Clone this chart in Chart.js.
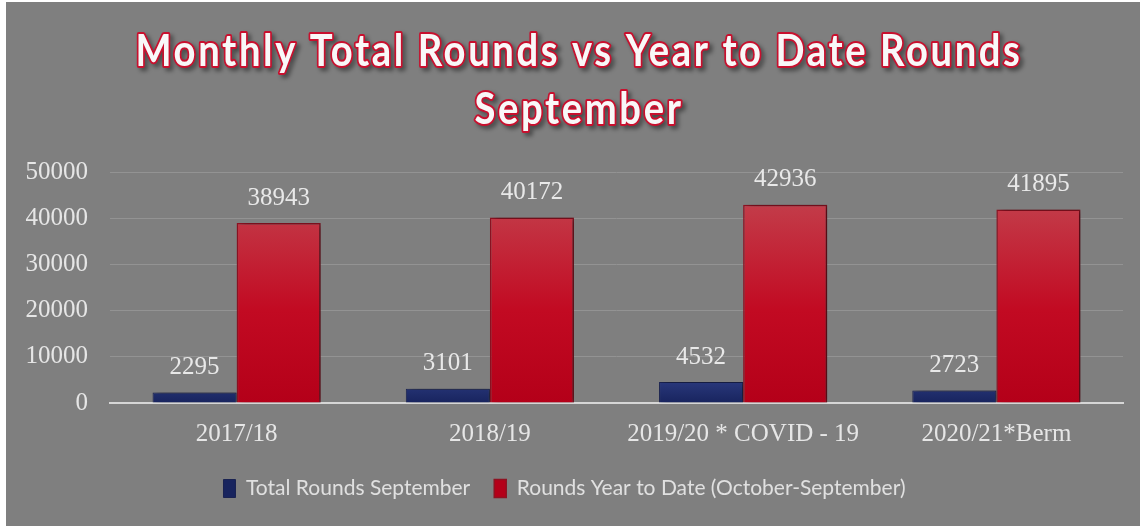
<!DOCTYPE html>
<html>
<head>
<meta charset="utf-8">
<script src="https://cdn.jsdelivr.net/npm/chart.js@4.4.0/dist/chart.umd.min.js"></script>
<style>
    body { margin: 0; background: #fff; }
    #wrap { position: absolute; left: 6px; top: 2px; width: 1134px; height: 524px; background: #7f7f7f; }
</style>
</head>
<body>
<div id="wrap"><canvas id="roundsChart"></canvas></div>
<script>
const categories = ['2017/18', '2018/19', '2019/20 * COVID - 19', '2020/21*Berm'];
const monthRounds = [2295, 3101, 4532, 2723];
const ytdRounds = [38943, 40172, 42936, 41895];
const titleLines = ['Monthly Total Rounds vs Year to Date Rounds', 'September'];
const yTicks = [0, 10000, 20000, 30000, 40000, 50000];

const serif = "'Liberation Serif', 'DejaVu Serif', serif";
const sans = "Lato, 'Liberation Sans', sans-serif";

function redFill(ctx) {
    const area = ctx.chart.chartArea;
    if (!area) return '#c0001a';
    const g = ctx.chart.ctx.createLinearGradient(0, area.top, 0, area.bottom);
    g.addColorStop(0, '#c34b55');
    g.addColorStop(0.6, '#c20a22');
    g.addColorStop(1, '#b40019');
    return g;
}

function blueFill(ctx) {
    const area = ctx.chart.chartArea;
    if (!area) return '#1e2c6e';
    const g = ctx.chart.ctx.createLinearGradient(0, area.bottom - 25, 0, area.bottom);
    g.addColorStop(0, '#2c3b80');
    g.addColorStop(1, '#18245e');
    return g;
}

// title with outline; squeezed to the width of the original heading
const titlePlugin = {
    id: 'outlinedTitle',
    afterDraw(chart) {
        const c = chart.ctx;
        const cx = 573;
        const ys = [50, 108];
        c.save();
        c.font = "bold 44px " + sans;
        c.letterSpacing = '3px';
        const sx = 887 / c.measureText(titleLines[0]).width;
        c.textAlign = 'center';
        c.textBaseline = 'middle';
        c.lineJoin = 'round';
        titleLines.forEach((t, i) => {
            c.save();
            c.translate(cx, ys[i]);
            c.scale(sx, 1);
            c.shadowColor = 'rgba(0,0,0,0.45)';
            c.shadowOffsetX = 3;
            c.shadowOffsetY = 3;
            c.shadowBlur = 4;
            c.strokeStyle = '#c8102e';
            c.lineWidth = 4;
            c.strokeText(t, 0, 0);
            c.shadowColor = 'transparent';
            c.fillStyle = '#f8f8f8';
            c.fillText(t, 0, 0);
            c.restore();
        });
        c.restore();
    }
};

// value labels above bars + bar shadows
const valuePlugin = {
    id: 'values',
    beforeDatasetsDraw(chart) {
        const c = chart.ctx;
        c.save();
        c.shadowColor = 'rgba(0,0,0,0.45)';
        c.shadowOffsetX = 4;
        c.shadowOffsetY = 0;
        c.shadowBlur = 6;
    },
    afterDatasetsDraw(chart) {
        const c = chart.ctx;
        c.restore();
        c.save();
        c.font = "25px " + serif;
        c.fillStyle = '#e8e8e8';
        c.textAlign = 'center';
        c.textBaseline = 'middle';
        chart.data.datasets.forEach((ds, i) => {
            chart.getDatasetMeta(i).data.forEach((bar, j) => {
                c.fillText(String(ds.data[j]), bar.x, bar.y - 25);
            });
        });
        c.restore();
    }
};

new Chart(document.getElementById('roundsChart'), {
    type: 'bar',
    data: {
        labels: categories,
        datasets: [{
            label: 'Total Rounds September',
            data: monthRounds,
            backgroundColor: blueFill,
            borderColor: '#1a2352',
            borderWidth: 1
        }, {
            label: 'Rounds Year to Date (October-September)',
            data: ytdRounds,
            backgroundColor: redFill,
            borderColor: '#8f1222',
            borderWidth: 1.5
        }]
    },
    options: {
        responsive: true,
        maintainAspectRatio: false,
        animation: false,
        layout: { padding: { top: 170, right: 17, bottom: 17, left: 0 } },
        datasets: { bar: { barPercentage: 1, categoryPercentage: 0.664 } },
        plugins: {
            title: { display: false },
            tooltip: { enabled: false },
            legend: {
                position: 'bottom',
                labels: {
                    color: '#e0e0e0',
                    font: { family: sans, size: 21 },
                    boxWidth: 12,
                    boxHeight: 18,
                    padding: 24
                }
            }
        },
        scales: {
            x: {
                grid: { display: false },
                border: { color: '#d6d6d6', width: 2 },
                ticks: { color: '#e6e6e6', font: { family: serif, size: 25 }, padding: 8 },
                afterFit(s) { s.height = 51; }
            },
            y: {
                min: 0,
                max: 50000,
                afterBuildTicks(s) { s.ticks = yTicks.map(v => ({ value: v })); },
                grid: { color: '#939393', lineWidth: 1, drawTicks: false },
                border: { display: false },
                ticks: {
                    color: '#e6e6e6',
                    font: { family: serif, size: 25 },
                    padding: 22,
                    callback: v => String(v)
                },
                afterFit(s) { s.width = 104; }
            }
        }
    },
    plugins: [titlePlugin, valuePlugin]
});
</script>
</body>
</html>
